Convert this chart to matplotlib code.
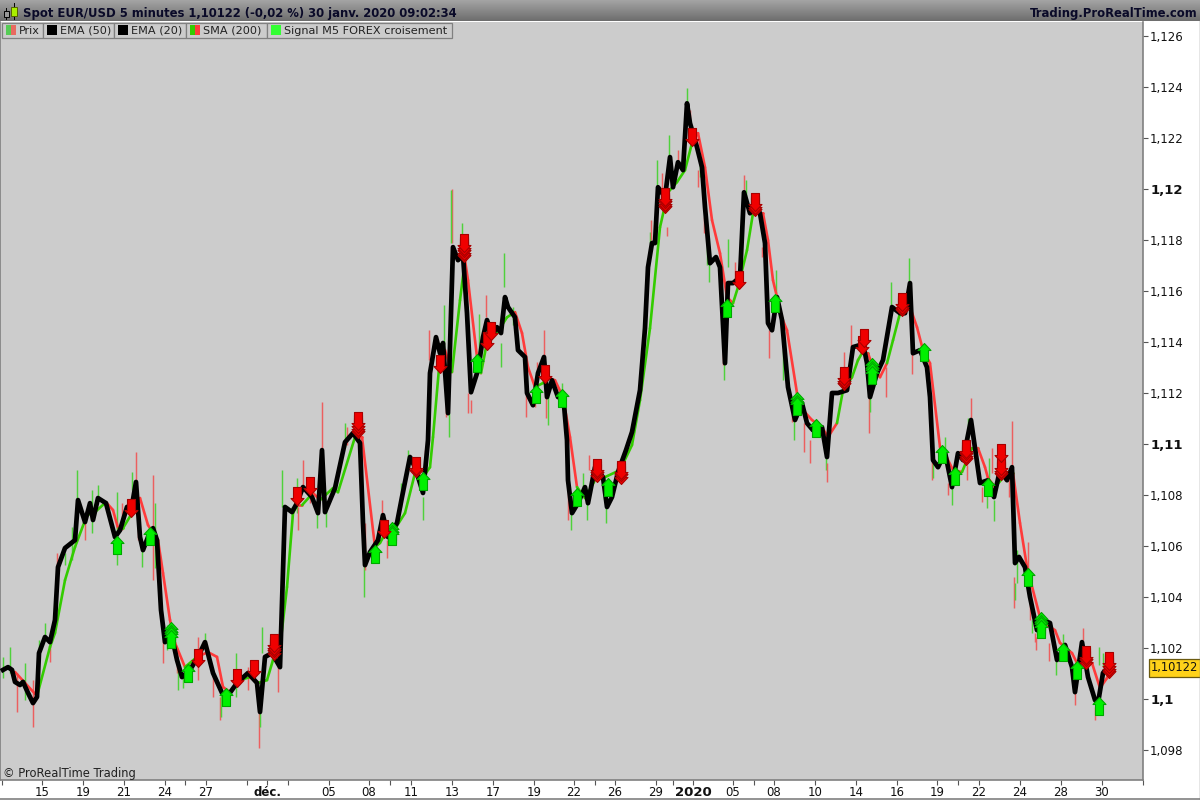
import numpy as np
import matplotlib
matplotlib.use("Agg")
from matplotlib import pyplot as plt
from matplotlib.collections import LineCollection, PathCollection
from matplotlib.patches import Rectangle
from matplotlib.path import Path
from matplotlib.transforms import IdentityTransform

# x is the bar slot on the session axis, prices are EUR/USD
ema_x = [3, 8, 12, 15, 20, 23, 28, 33, 37, 39, 45, 50, 55, 58, 65, 75, 78, 85, 90, 93, 98, 106, 115, 120, 127, 132, 136,
         140, 143, 148, 153, 157, 161, 165, 172, 177, 182, 190, 198, 205, 213, 222, 227, 237, 248, 257, 260, 265, 272,
         280, 285, 292, 297, 303, 312, 318, 322, 325, 335, 345, 353, 360, 363, 365, 370, 378, 383, 388, 397, 402, 410,
         415, 423, 428, 430, 436, 440, 443, 448, 453, 458, 463, 467, 471, 478, 483, 487, 492, 497, 501, 505, 508, 515,
         518, 525, 527, 533, 538, 544, 547, 552, 558, 563, 567, 568, 572, 578, 585, 588, 595, 603, 607, 612, 618, 626,
         632, 640, 645, 648, 652, 655, 658, 665, 670, 673, 678, 683, 687, 690, 697, 702, 705, 710, 716, 720, 725, 728,
         733, 740, 744, 750, 755, 760, 765, 768, 772, 777, 782, 788, 795, 802, 807, 813, 822, 827, 832, 838, 847, 853,
         860, 863, 867, 870, 877, 883, 892, 900, 905, 910, 913, 920, 927, 930, 933, 938, 945, 952, 958, 963, 971, 980,
         988, 994, 1000, 1007, 1012, 1015, 1019, 1025, 1030, 1037, 1043, 1050, 1057, 1065, 1072, 1075, 1082, 1088, 1095,
         1098, 1103, 1108]
ema_p = [1.10114, 1.10125, 1.10114, 1.10067, 1.10055, 1.10067, 1.10024, 1.09984, 1.10008, 1.1018, 1.10243, 1.10223,
         1.1031, 1.10517, 1.10592, 1.10623, 1.1078, 1.10694, 1.10768, 1.10702, 1.10788, 1.10768, 1.10635, 1.10662,
         1.10753, 1.1076, 1.10851, 1.10635, 1.10584, 1.10635, 1.1067, 1.10623, 1.10349, 1.10223, 1.10243, 1.10153,
         1.10086, 1.10114, 1.10165, 1.10223, 1.10102, 1.10024, 1.10008, 1.10063, 1.10102, 1.10063, 1.09949, 1.10165,
         1.1018, 1.10125, 1.10753, 1.10733, 1.10768, 1.10831, 1.10792, 1.10729, 1.10976, 1.10733, 1.10827, 1.11007,
         1.11043, 1.11004, 1.1069, 1.10525, 1.10576, 1.10623, 1.10721, 1.10635, 1.1069, 1.10792, 1.10949, 1.10909,
         1.10808, 1.11015, 1.11278, 1.11419, 1.11356, 1.11396, 1.11121, 1.11772, 1.11721, 1.1174, 1.11513, 1.11203,
         1.1129, 1.11419, 1.11486, 1.11427, 1.11458, 1.11435, 1.11576, 1.11537, 1.11497, 1.11368, 1.11341, 1.112,
         1.11152, 1.11278, 1.11341, 1.11184, 1.1125, 1.11184, 1.112, 1.11015, 1.10858, 1.10729, 1.10768, 1.10831,
         1.10768, 1.10909, 1.1087, 1.10753, 1.10792, 1.1089, 1.10976, 1.11047, 1.11211, 1.11454, 1.11693, 1.11788,
         1.11788, 1.12007, 1.11968, 1.12125, 1.12007, 1.12105, 1.12074, 1.12336, 1.12258, 1.12164, 1.12085, 1.11929,
         1.11709, 1.11733, 1.11693, 1.11317, 1.11631, 1.11631, 1.11654, 1.11987, 1.11905, 1.11944, 1.11905, 1.11788,
         1.11474, 1.11446, 1.11576, 1.11486, 1.11223, 1.11094, 1.1116, 1.11082, 1.11054, 1.11066, 1.10949, 1.112,
         1.112, 1.11211, 1.1138, 1.11388, 1.11396, 1.11317, 1.11184, 1.11278, 1.11329, 1.11537, 1.11513, 1.11513,
         1.11631, 1.11356, 1.11368, 1.11301, 1.11184, 1.10937, 1.10909, 1.10968, 1.10831, 1.10964, 1.10937, 1.11094,
         1.10847, 1.10858, 1.10792, 1.10898, 1.10858, 1.10909, 1.10533, 1.10557, 1.10517, 1.104, 1.1027, 1.1031,
         1.10298, 1.10153, 1.10212, 1.10125, 1.10027, 1.10223, 1.10086, 1.09996, 1.09984, 1.10102, 1.10125]

# SMA, sma_col is the colour of the piece that ends on the point
sma_x = [15, 25, 37, 50, 55, 65, 75, 87, 95, 106, 113, 118, 123, 132, 140, 148, 158, 163, 170, 175, 185, 197, 208, 217,
         223, 230, 240, 250, 258, 267, 273, 280, 287, 293, 297, 302, 313, 320, 333, 338, 355, 362, 375, 380, 387, 393,
         405, 415, 423, 430, 433, 440, 445, 452, 460, 465, 468, 477, 481, 488, 497, 507, 515, 522, 528, 535, 543, 547,
         555, 563, 570, 577, 585, 595, 605, 620, 632, 640, 650, 660, 668, 677, 685, 692, 698, 705, 712, 720, 727, 733,
         738, 747, 753, 763, 768, 773, 782, 787, 797, 803, 812, 822, 828, 837, 843, 852, 858, 862, 868, 873, 880, 887,
         893, 900, 910, 917, 923, 930, 940, 947, 953, 962, 972, 978, 985, 988, 995, 1007, 1013, 1020, 1027, 1040, 1047,
         1055, 1060, 1072, 1077, 1092, 1100, 1107, 1110]
sma_p = [1.10106, 1.10063, 1.10012, 1.10204, 1.10259, 1.10466, 1.10596, 1.10721, 1.10733, 1.10772, 1.10741, 1.1067,
         1.1067, 1.10729, 1.10788, 1.10682, 1.10623, 1.10494, 1.1031, 1.1022, 1.10125, 1.10165, 1.10184, 1.10165,
         1.10047, 1.10027, 1.10074, 1.10086, 1.10063, 1.10074, 1.10153, 1.10204, 1.10439, 1.10729, 1.1076, 1.1076,
         1.10808, 1.1078, 1.10827, 1.10811, 1.11027, 1.11027, 1.10596, 1.10612, 1.10662, 1.10655, 1.10729, 1.10886,
         1.1087, 1.10909, 1.11027, 1.11341, 1.11368, 1.11282, 1.11564, 1.11721, 1.11642, 1.11341, 1.11278, 1.11419,
         1.11435, 1.11497, 1.11517, 1.11435, 1.11301, 1.11223, 1.11239, 1.11262, 1.1125, 1.11184, 1.11027, 1.10831,
         1.10788, 1.10858, 1.1087, 1.10898, 1.10996, 1.11172, 1.11454, 1.1185, 1.11987, 1.12027, 1.12074, 1.1218,
         1.12219, 1.12085, 1.11878, 1.11748, 1.11576, 1.11552, 1.11615, 1.1176, 1.11905, 1.11905, 1.11799, 1.11642,
         1.11494, 1.11446, 1.112, 1.11133, 1.11094, 1.11066, 1.11027, 1.11082, 1.11211, 1.11262, 1.11329, 1.11356,
         1.11356, 1.11301, 1.11262, 1.11317, 1.11407, 1.11513, 1.11537, 1.11458, 1.11368, 1.11317, 1.10988, 1.10945,
         1.10898, 1.1089, 1.10984, 1.10984, 1.10909, 1.10866, 1.10831, 1.10886, 1.10886, 1.1069, 1.10517, 1.10321,
         1.1029, 1.1027, 1.1022, 1.1018, 1.10141, 1.10141, 1.10043, 1.10082, 1.10114]
sma_col = ("r r r g g g g g g g r r g g r r r r r r r g r r r r g g r g g g g g g r g r g g g r r g g g g g r g g g "
           "r r g g r r r g g g g r r r g g r r r r g g r g g g g g g g g g r r r r r r g g g r r r r r r r r r r r "
           "g g g g g r r r g g g r r r r r r r g g r r r g g r r r r r r r r r r r r g g").split()

wick_x = [3, 10, 17, 25, 33, 39, 45, 50, 57, 65, 72, 77, 85, 92, 98, 117, 122, 132, 136, 138, 142, 153, 155, 163, 167,
          177, 178, 183, 198, 205, 213, 220, 221, 236, 248, 259, 260, 262, 278, 282, 292, 297, 298, 303, 310, 317, 322,
          326, 345, 347, 364, 365, 382, 387, 401, 408, 425, 423, 429, 444, 446, 449, 452, 451, 462, 468, 471, 479, 486,
          501, 504, 513, 526, 535, 537, 544, 546, 548, 562, 571, 568, 583, 587, 589, 606, 644, 650, 651, 657, 662, 669,
          667, 678, 687, 690, 698, 700, 704, 707, 709, 728, 735, 744, 746, 762, 776, 723, 724, 769, 783, 792, 794, 804,
          810, 826, 827, 844, 851, 869, 870, 886, 891, 909, 912, 932, 933, 945, 948, 952, 967, 968, 971, 982, 987, 989,
          992, 994, 1009, 1012, 1014, 1015, 1017, 1028, 1030, 1032, 1036, 1035, 1049, 1056, 1063, 1075, 1083, 1095,
          1099, 1103]
wick_hi = [1.10165, 1.10204, 1.10102, 1.10141, 1.10074, 1.10231, 1.10298, 1.1022, 1.10572, 1.10572, 1.10674, 1.10898,
           1.10702, 1.10819, 1.10839, 1.10811, 1.10768, 1.1089, 1.10968, 1.10792, 1.10584, 1.10878, 1.10768, 1.10243,
           1.1029, 1.10192, 1.10125, 1.10102, 1.10243, 1.10259, 1.10102, 1.10008, 1.10016, 1.1018, 1.10125, 1.09945,
           1.09945, 1.10282, 1.10153, 1.10898, 1.10753, 1.10866, 1.10753, 1.10937, 1.10847, 1.10768, 1.11164, 1.10753,
           1.11082, 1.11066, 1.10525, 1.1069, 1.1078, 1.10623, 1.10847, 1.10976, 1.10976, 1.10792, 1.11446, 1.11544,
           1.11223, 1.11121, 1.12, 1.11995, 1.11866, 1.112, 1.11172, 1.11509, 1.11584, 1.11396, 1.11748, 1.11537,
           1.11211, 1.112, 1.11321, 1.11446, 1.112, 1.11211, 1.11239, 1.10729, 1.10898, 1.10886, 1.10768, 1.10956,
           1.10768, 1.11497, 1.11831, 1.11878, 1.12113, 1.12062, 1.12211, 1.1185, 1.12152, 1.12395, 1.12309, 1.12074,
           1.1214, 1.11889, 1.11788, 1.11709, 1.11803, 1.11713, 1.12054, 1.12035, 1.11772, 1.11682, 1.11368, 1.11317,
           1.11446, 1.11368, 1.1116, 1.11105, 1.11082, 1.11015, 1.10949, 1.10925, 1.1136, 1.11466, 1.11184, 1.11184,
           1.11301, 1.11635, 1.11729, 1.11356, 1.10937, 1.10925, 1.11027, 1.10847, 1.10827, 1.10917, 1.11102, 1.1118,
           1.10831, 1.10819, 1.10945, 1.10984, 1.1078, 1.10858, 1.1109, 1.10478, 1.10455, 1.10584, 1.10615, 1.10376,
           1.1031, 1.10243, 1.10259, 1.1022, 1.10153, 1.10255, 1.10027, 1.10278, 1.09969, 1.10204, 1.1018]
wick_lo = [1.10082, 1.10102, 1.09949, 1.09996, 1.0989, 1.1018, 1.10243, 1.10145, 1.10466, 1.10525, 1.10545, 1.10768,
           1.10623, 1.10651, 1.1078, 1.10525, 1.10662, 1.10819, 1.10847, 1.10623, 1.10517, 1.10466, 1.10514, 1.10141,
           1.10192, 1.10102, 1.10035, 1.10043, 1.10074, 1.102, 1.10008, 1.09918, 1.09929, 1.10008, 1.10035, 1.09808,
           1.0989, 1.1018, 1.10027, 1.10753, 1.1071, 1.10729, 1.10662, 1.10831, 1.10768, 1.1067, 1.10909, 1.10674,
           1.10988, 1.10996, 1.104, 1.10506, 1.10713, 1.10553, 1.10753, 1.10898, 1.10898, 1.10702, 1.11329, 1.11368,
           1.11105, 1.11027, 1.11788, 1.11788, 1.11819, 1.11121, 1.11121, 1.11356, 1.11497, 1.11301, 1.11615, 1.11466,
           1.11105, 1.11145, 1.11278, 1.11341, 1.11102, 1.11074, 1.112, 1.10662, 1.10702, 1.10819, 1.10702, 1.10898,
           1.1069, 1.11454, 1.11788, 1.11799, 1.12015, 1.11995, 1.12125, 1.11815, 1.12101, 1.12336, 1.12258, 1.12007,
           1.12046, 1.11827, 1.11701, 1.11635, 1.11693, 1.11642, 1.11987, 1.11956, 1.11733, 1.11592, 1.11309, 1.1125,
           1.11337, 1.1125, 1.11086, 1.11015, 1.10968, 1.10925, 1.10898, 1.10851, 1.1129, 1.1138, 1.11043, 1.11125,
           1.11184, 1.11537, 1.11631, 1.11274, 1.10858, 1.10866, 1.10976, 1.108, 1.1076, 1.10858, 1.11015, 1.11094,
           1.10772, 1.10749, 1.10866, 1.10886, 1.10698, 1.10792, 1.10909, 1.10357, 1.10388, 1.10455, 1.10506, 1.1031,
           1.10259, 1.10192, 1.10223, 1.10149, 1.10094, 1.1022, 1.09976, 1.10231, 1.09918, 1.10133, 1.10125]
wick_col = ("g g r g r g g r r g g g r g g g r g r r g r g r g r g g r g r r g g r r g g r g g g r r r g r g g r "
            "g r r r g g r g r g r g r g g r r g r g g g r r r r r g g g r g g r g r g r g r g r r g r r g r g g "
            "g r r g r g r g r g r g r r g r r r r g r g g r r g g r g r g r r g g r g r r r g g r r g r r r g g "
            "r r r g g").split()

# signal arrows, one entry per signal, tip price
buy_x = [117, 150, 171, 171, 171, 171, 188, 226, 375, 392, 392, 392, 423, 477, 536, 562, 577, 608, 727, 775, 797, 797,
         797, 816, 872, 872, 872, 872, 924, 942, 955, 988, 1028, 1041, 1041, 1041, 1041, 1063, 1077, 1099]
buy_p = [1.10639, 1.10674, 1.10302, 1.10292, 1.10282, 1.10272, 1.10137, 1.10043, 1.10604, 1.10694, 1.10684, 1.10674,
         1.1089, 1.11352, 1.11231, 1.11215, 1.10827, 1.10866, 1.11568, 1.11588, 1.11203, 1.11193, 1.11183, 1.11098,
         1.11337, 1.11327, 1.11317, 1.11307, 1.11396, 1.10996, 1.10909, 1.10866, 1.10514, 1.10341, 1.10331, 1.10321,
         1.10311, 1.1022, 1.10149, 1.10008]
sell_x = [131, 198, 237, 254, 274, 274, 274, 274, 297, 310, 358, 358, 358, 358, 384, 416, 416, 440, 464, 464, 464, 464,
          464, 487, 491, 545, 597, 597, 597, 621, 621, 621, 665, 665, 665, 665, 692, 739, 755, 755, 755, 844, 844, 844,
          864, 862, 902, 902, 902, 966, 966, 966, 966, 1001, 1001, 1001, 1001, 1086, 1086, 1086, 1109, 1109, 1109, 1109]
sell_p = [1.10713, 1.10125, 1.10047, 1.10082, 1.10153, 1.10163, 1.10173, 1.10183, 1.1076, 1.108, 1.11023, 1.11033,
          1.11043, 1.11053, 1.10631, 1.1087, 1.1088, 1.11278, 1.11713, 1.11723, 1.11733, 1.11743, 1.11753, 1.11368,
          1.11407, 1.11239, 1.10851, 1.10861, 1.10871, 1.10843, 1.10853, 1.10863, 1.11905, 1.11915, 1.11925, 1.11935,
          1.12168, 1.11607, 1.11893, 1.11903, 1.11913, 1.11211, 1.11221, 1.11231, 1.1138, 1.11352, 1.11501, 1.11511,
          1.11521, 1.10917, 1.10927, 1.10937, 1.10947, 1.10929, 1.10858, 1.10868, 1.10878, 1.10118, 1.10128, 1.10138,
          1.10082, 1.10092, 1.10102, 1.10112]

# axis ticks
price_ticks = [1.098, 1.1, 1.102, 1.104, 1.106, 1.108, 1.11, 1.112, 1.114, 1.116, 1.118, 1.12, 1.122, 1.124, 1.126]
price_labels = ["1,098", "1,1", "1,102", "1,104", "1,106", "1,108", "1,11", "1,112", "1,114", "1,116", "1,118", "1,12",
                "1,122", "1,124", "1,126"]
bold_prices = ["1,1", "1,11", "1,12"]
date_ticks = [42, 83, 124, 165, 206, 267, 329, 369, 411, 452, 493, 534, 574, 615, 656, 693, 733, 774, 815, 856, 897,
              937, 979, 1020, 1061, 1102]
date_labels = ["15", "19", "21", "24", "27", "déc.", "05", "08", "11", "13", "17", "19", "22", "26", "29", "2020", "05",
               "08", "10", "14", "16", "19", "22", "24", "28", "30"]
blank_ticks = [2, 185, 247, 288, 390, 595, 673, 754, 958, 1143]
last_price = 1.10122

RED = "#ff3b3b"
GREEN = "#33cc00"
WICK = {"r": "#ec5f5f", "g": "#4fd13c"}
BORDER = "#808080"

plt.rcParams["font.family"] = "DejaVu Sans"
fig = plt.figure(figsize=(12, 8), dpi=100, facecolor="white")
ax = fig.add_axes([0, 20 / 800, 1143 / 1200, 758.5 / 800], facecolor="#cccccc")
ax.set_xlim(0, 1143)
ax.set_ylim(1.1 + (699 - 780) / 25500, 1.1 + (699 - 21.5) / 25500)

ax.vlines(wick_x, wick_lo, wick_hi, colors=[WICK[c] for c in wick_col], linewidth=1.05, zorder=2)

pts = np.column_stack([sma_x, sma_p])
segs = np.stack([pts[:-1], pts[1:]], axis=1)
cols = [RED if c == "r" else GREEN for c in sma_col[1:]]
ax.add_collection(LineCollection(segs, colors=cols, linewidths=1.9, capstyle="round", zorder=3), autolim=False)

ax.plot(ema_x, ema_p, color="black", lw=3.4, solid_joinstyle="round", zorder=4)

# arrows are sized in pixels, placed through the data transform
up_arrow = Path([(0, 0), (6.5, -7), (4, -7), (4, -18), (-4, -18), (-4, -7), (-6.5, -7), (0, 0)], closed=True)
down_arrow = Path([(0, 0), (6.5, 7), (4, 7), (4, 18), (-4, 18), (-4, 7), (-6.5, 7), (0, 0)], closed=True)


def add_arrows(shape, xs, ps, face, edge, order):
    offs = np.column_stack([xs, ps])[order]
    coll = PathCollection([shape], offsets=offs, offset_transform=ax.transData, facecolors=face, edgecolors=edge,
                          linewidths=0.8, zorder=5)
    coll.set_transform(IdentityTransform())
    ax.add_collection(coll, autolim=False)


add_arrows(up_arrow, buy_x, buy_p, "#00f000", "#00a800", np.argsort(buy_p)[::-1])
add_arrows(down_arrow, sell_x, sell_p, "#f00000", "#a80000", np.argsort(sell_p))

ax.yaxis.tick_right()
ax.set_yticks(price_ticks)
ax.set_yticklabels(price_labels)
ax.tick_params(axis="y", length=3.6, width=0.8, color="#555555", pad=1.5, labelsize=8.5, labelcolor="#111111")
for lab in ax.get_yticklabels():
    if lab.get_text() in bold_prices:
        lab.set_fontweight("bold")
        lab.set_fontsize(9.5)
ax.set_xticks(date_ticks + blank_ticks)
ax.set_xticklabels(date_labels + [""] * len(blank_ticks))
ax.tick_params(axis="x", length=3.6, width=0.8, color="#555555", pad=7.9, labelsize=8.5, labelcolor="#111111")
for lab in ax.get_xticklabels():
    lab.set_verticalalignment("baseline")
    if lab.get_text() in ("déc.", "2020"):
        lab.set_fontweight("bold")
        lab.set_fontsize(9.5 if lab.get_text() == "2020" else 8.5)
ax.spines["top"].set_visible(False)
for side in ("left", "right", "bottom"):
    ax.spines[side].set_color(BORDER)
    ax.spines[side].set_linewidth(1.2)

ax.text(1151 / 1143, last_price, "1,10122", transform=ax.get_yaxis_transform(), fontsize=8.3, color="#111111",
        va="center", ha="left", zorder=9, clip_on=False,
        bbox=dict(boxstyle="square,pad=0.2", fc="#ffd21a", ec="#6b5a10", lw=0.9))

# window chrome in pixel coordinates
ui = fig.add_axes([0, 0, 1, 1], facecolor="none")
grad = np.linspace(0, 1, 22).reshape(-1, 1)
ui.imshow(grad, extent=(0, 1200, 21.5, 0), cmap=matplotlib.colors.LinearSegmentedColormap.from_list(
    "bar", ["#a6a6a6", "#6e6e6e"]), aspect="auto", zorder=1)
ui.set_xlim(0, 1200)
ui.set_ylim(800, 0)
ui.axis("off")
ui.plot([0, 1200], [798.5, 798.5], color=BORDER, lw=1.2, zorder=1)
ui.plot([1199.5, 1199.5], [20, 799], color=BORDER, lw=1, zorder=1)

# little candle icon
ui.plot([6, 6], [8, 19], color="black", lw=0.7, zorder=3)
ui.add_patch(Rectangle((3.5, 11), 5, 6, fc="#999999", ec="black", lw=0.7, zorder=4))
ui.plot([14, 14], [3, 19], color="black", lw=0.7, zorder=3)
ui.add_patch(Rectangle((11, 7), 6, 9, fc="#aaf000", ec="#556600", lw=0.7, zorder=4))

ui.text(23, 13, "Spot EUR/USD 5 minutes 1,10122 (-0,02 %) 30 janv. 2020 09:02:34", fontsize=8.4, fontweight="bold",
        color="#0a0a28", va="center", ha="left", zorder=5)
ui.text(1197, 13, "Trading.ProRealTime.com", fontsize=8.4, fontweight="bold", color="#0a0a28", va="center", ha="right",
        zorder=5)

legend_edges = [2, 43, 114, 186, 267, 452]
legend_names = ["Prix", "EMA (50)", "EMA (20)", "SMA (200)", "Signal M5 FOREX croisement"]
legend_swatch = [["#55cc55", "#e86a60"], ["black"], ["black"], [GREEN, RED], ["#33ff33"]]
for i, name in enumerate(legend_names):
    x0, x1 = legend_edges[i], legend_edges[i + 1]
    ui.add_patch(Rectangle((x0, 22.5), x1 - x0, 15, fc="#cccccc", ec=BORDER, lw=0.9, zorder=6))
    w = 10 / len(legend_swatch[i])
    for j, c in enumerate(legend_swatch[i]):
        ui.add_patch(Rectangle((x0 + 4 + j * w, 25), w, 10, fc=c, ec="none", zorder=7))
    ui.text(x0 + 17, 30.5, name, fontsize=8.15, color="#222222", va="center", ha="left", zorder=7)

ui.text(3, 774, "© ProRealTime Trading", fontsize=8.3, color="#222222", va="center", ha="left", zorder=7)

fig.savefig("out.png", dpi=100)
